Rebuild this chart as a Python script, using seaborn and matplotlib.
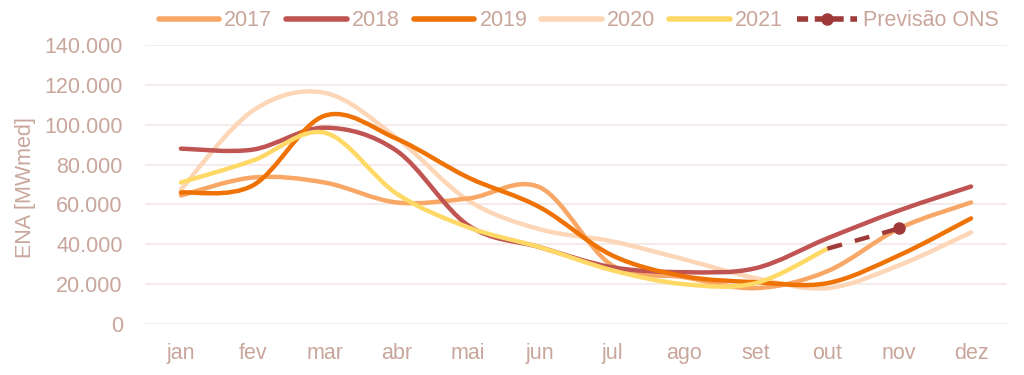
import numpy as np
import pandas as pd
import seaborn as sns
import matplotlib
matplotlib.use("Agg")
import matplotlib.pyplot as plt
from matplotlib.path import Path
from matplotlib.patches import PathPatch
from matplotlib.lines import Line2D
from matplotlib.ticker import FuncFormatter, MultipleLocator

# ---------------- data ----------------
months = ["jan", "fev", "mar", "abr", "mai", "jun", "jul", "ago", "set", "out", "nov", "dez"]
v2017 = [64500, 73500, 71000, 61000, 63000, 68500, 29500, 23500, 18000, 26500, 48000, 61000]
v2018 = [88000, 87500, 98500, 87000, 49500, 38500, 28500, 26000, 28000, 43000, 57000, 69000]
v2019 = [66000, 69500, 104500, 93000, 73500, 58500, 34500, 24000, 21000, 20500, 34500, 53000]
v2020 = [67500, 107000, 116000, 93500, 62000, 47500, 41500, 32500, 23000, 18000, 29500, 46000]
v2021 = [71000, 82000, 96000, 65500, 48500, 38500, 27000, 20000, 20500, 37800]
prev_months = ["out", "nov"]
prev_vals = [37800, 48000]

series_names = ["2017", "2018", "2019", "2020", "2021"]
series_vals = [v2017, v2018, v2019, v2020, v2021]
colors = ["#F8A766", "#BF5452", "#EF7205", "#FCD6B6", "#FFD966"]
prev_color = "#9E3B39"
prev_name = "Previsão ONS"
text_color = "#C9A69C"
grid_color = "#F3E8E6"

# ---------------- style ----------------
sns.set_theme(style="white")
plt.rcParams["font.family"] = ["Liberation Sans", "DejaVu Sans"]

fig = plt.figure(figsize=(10.24, 3.75), dpi=100)
ax = fig.add_axes([145 / 1024, 1 - 324 / 375, (1007 - 145) / 1024, (324 - 45) / 375])


def smooth_path(xs, ys):
    pts = np.column_stack([xs, ys]).astype(float)
    n = len(pts)
    verts = [pts[0]]
    codes = [Path.MOVETO]
    for i in range(n - 1):
        p0 = pts[i - 1] if i > 0 else pts[i]
        p1 = pts[i]
        p2 = pts[i + 1]
        p3 = pts[i + 2] if i + 2 < n else pts[i + 1]
        c1 = p1 + (p2 - p0) / 6.0
        c2 = p2 - (p3 - p1) / 6.0
        verts += [c1, c2, p2]
        codes += [Path.CURVE4] * 3
    return Path(verts, codes)


zorders = {0: 3, 1: 4, 2: 5, 3: 2, 4: 6}
for i, vals in enumerate(series_vals):
    xs = [months.index(m) for m in months[: len(vals)]]
    patch = PathPatch(smooth_path(xs, vals), facecolor="none", edgecolor=colors[i],
                      lw=3.2, capstyle="round", joinstyle="round", zorder=zorders[i])
    ax.add_patch(patch)

prev_df = pd.DataFrame({"x": [months.index(m) for m in prev_months], "y": prev_vals})
sns.lineplot(data=prev_df, x="x", y="y", ax=ax, color=prev_color, lw=3.2,
             linestyle=(0, (3.4, 3)), zorder=7, legend=False)
ax.plot([prev_df["x"].iloc[-1]], [prev_df["y"].iloc[-1]], marker="o", ms=8,
        color=prev_color, zorder=8, linestyle="none")

ax.set_xlim(-0.5, len(months) - 0.5)
ax.set_ylim(0, 140000)
ax.set_xticks(range(len(months)))
ax.set_xticklabels(months)
ax.yaxis.set_major_locator(MultipleLocator(20000))
ax.yaxis.set_major_formatter(FuncFormatter(lambda v, p: "0" if v == 0 else f"{int(v):,}".replace(",", ".")))
ax.grid(axis="y", color=grid_color, lw=1.2)
ax.grid(axis="x", visible=False)
ax.set_axisbelow(True)
for s in ax.spines.values():
    s.set_visible(False)
ax.tick_params(axis="both", length=0, labelsize=15.5, labelcolor=text_color)
ax.tick_params(axis="y", pad=16)
ax.tick_params(axis="x", pad=14)
ax.set_xlabel("")
ax.set_ylabel("ENA [MWmed]", fontsize=15.5, color=text_color)
ax.yaxis.set_label_coords(-0.127, 0.49)

handles = [Line2D([0], [0], color=c, lw=4) for c in colors]
handles.append(Line2D([0], [0], color=prev_color, lw=4, linestyle=(0, (2, 1.2)),
                      marker="o", ms=8))
leg = fig.legend(handles, series_names + [prev_name], loc="center", ncol=6,
                 bbox_to_anchor=(0.565, 0.945), frameon=False, fontsize=15.5,
                 handlelength=2.8, handletextpad=0.25, columnspacing=0.65)
for t in leg.get_texts():
    t.set_color(text_color)

fig.savefig("out.png", dpi=100)
